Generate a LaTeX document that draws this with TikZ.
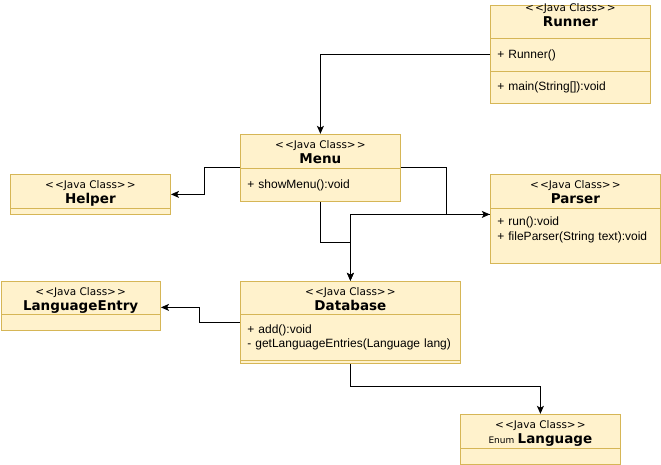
\documentclass[tikz,border=0pt]{standalone}
\usepackage{fontspec}
\setmainfont{Liberation Sans}
\newfontfamily\DejaVu{DejaVu Sans}
\usepackage{xcolor}
\definecolor{BoxFill}{RGB}{255,242,204}
\definecolor{BoxLine}{RGB}{214,182,86}
\usepackage{tikz}
\usetikzlibrary{fit}
\usetikzlibrary{arrows.meta}
\newcommand{\JavaClass}{<\kern1.2pt<Java Class>\kern1.2pt>}
\newcommand{\NameFont}{\DejaVu\bfseries\fontsize{13.5}{15}\selectfont}
\tikzstyle{Box}=[rectangle,draw=BoxLine,fill=BoxFill,line width=0.8pt,
inner sep=0pt,anchor=north west]
\tikzstyle{Head}=[Box,align=center,text height=28pt,text depth=3pt,
font=\DejaVu\fontsize{10.5}{15}\selectfont]
\tikzstyle{Body}=[Box,align=left,inner xsep=7pt,
font=\fontsize{12}{14.5}\selectfont]
\tikzstyle{ClassBox}=[inner sep=0pt]
\tikzstyle{Edge}=[draw=black,line width=0.8pt,
-{Stealth[length=8pt,width=7pt,inset=2pt]}]

\begin{document}
\begin{tikzpicture}[x=1pt,y=-1pt]
            \useasboundingbox(0,0)rectangle(661,465);
            % classes
            \node[Head,text height=13pt,minimum width=160,minimum height=33]
                (Runner)at(490,5){\JavaClass\\{\NameFont Runner}};
            \node[Body,text width=146,minimum height=33](Runner-a)at(490,38)
                {+ Runner()};
            \node[Body,text width=146,minimum height=32](Runner-b)at(490,71)
                {+ main(String[]):void};
            \node[Head,minimum width=160,minimum height=34](Menu)at(240,134)
                {\JavaClass\\{\NameFont Menu}};
            \node[Body,text width=146,minimum height=33](Menu-a)at(240,168)
                {+ showMenu():void};
            \node[Head,minimum width=160,minimum height=34](Helper)at(10,174)
                {\JavaClass\\{\NameFont Helper}};
            \node[Body,minimum width=160,minimum height=6](Helper-a)at(10,208){};
            \node[Head,minimum width=170,minimum height=34](Parser)at(490,174)
                {\JavaClass\\{\NameFont Parser}};
            \node[Body,text width=156,minimum height=55](Parser-a)at(490,208)
                {+ run():void\\+ fileParser(String text):void\\\mbox{}};
            \node[Head,minimum width=159.5,minimum height=33](LangEntry)
                at(0.5,281){\JavaClass\\{\NameFont LanguageEntry}};
            \node[Body,minimum width=159.5,minimum height=16](LangEntry-a)
                at(0.5,314){};
            \node[Head,minimum width=220,minimum height=33](Database)at(240,281)
                {\JavaClass\\{\NameFont Database}};
            \node[Body,text width=206,minimum height=46](Database-a)at(240,314)
                {+ add():void\\- getLanguageEntries(Language lang)};
            \node[Body,minimum width=220,minimum height=3](Database-b)
                at(240,360){};
            \node[Head,minimum width=160,minimum height=34](Language)at(460,414)
                {\JavaClass\\{\fontsize{9}{15}\selectfont Enum}
                {\NameFont Language}};
            \node[Body,minimum width=160,minimum height=16](Language-a)
                at(460,448){};
            %
            \node[ClassBox,fit=(Menu)(Menu-a)](MenuBox){};
            \node[ClassBox,fit=(Helper)(Helper-a)](HelperBox){};
            \node[ClassBox,fit=(Parser)(Parser-a)](ParserBox){};
            \node[ClassBox,fit=(LangEntry)(LangEntry-a)](LangEntryBox){};
            \node[ClassBox,fit=(Database)(Database-b)](DatabaseBox){};
            \node[ClassBox,fit=(Language)(Language-a)](LanguageBox){};
            % connectors
            \draw[Edge](Runner-a.west)-|(MenuBox.north);
            \draw[Edge](MenuBox.west)--++(-35,0)|-(HelperBox.east);
            \draw[Edge](MenuBox.east)--++(45,0)
                |-([yshift=4.5pt]ParserBox.west);
            \draw[Edge]([yshift=4.5pt]ParserBox.west)-|(DatabaseBox.north);
            \draw[Edge](MenuBox.south)--++(0,40)-|(DatabaseBox.north);
            \draw[Edge](DatabaseBox.west)--++(-40,0)
                |-([yshift=-1.5pt]LangEntryBox.east);
            \draw[Edge](DatabaseBox.south)--++(0,22)-|(LanguageBox.north);
        \end{tikzpicture}
\end{document}
